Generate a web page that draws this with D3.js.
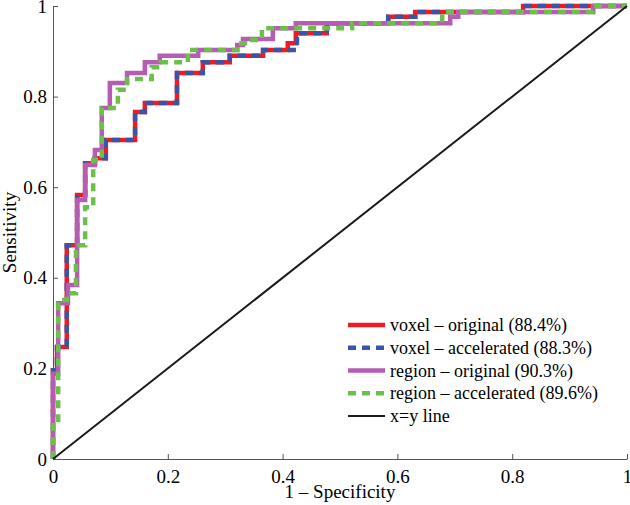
<!DOCTYPE html>
<html>
<head>
<meta charset="utf-8">
<script src="https://cdn.jsdelivr.net/npm/d3@7"></script>
<style>
  body { margin: 0; background: #fff; }
  text { font-family: "Liberation Serif", "Times New Roman", serif; fill: #000; }
</style>
</head>
<body>
<svg id="chart" width="630" height="505"></svg>
<script>
// ROC corner points (1 - specificity, sensitivity)
const fprVoxelOrig = [0, 0, 0.007, 0.024, 0.042, 0.056, 0.073, 0.092, 0.143, 0.160, 0.216, 0.261, 0.308, 0.366, 0.409, 0.423, 0.477, 0.584, 0.631, 0.819, 1];
const tprVoxelOrig = [0, 0.196, 0.247, 0.472, 0.583, 0.653, 0.664, 0.704, 0.766, 0.786, 0.852, 0.876, 0.890, 0.903, 0.918, 0.940, 0.962, 0.976, 0.987, 1, 1];

const fprVoxelAcc = [0, 0, 0.007, 0.024, 0.042, 0.056, 0.073, 0.092, 0.143, 0.160, 0.216, 0.261, 0.308, 0.366, 0.425, 0.477, 0.584, 0.631, 0.819, 1];
const tprVoxelAcc = [0, 0.196, 0.247, 0.472, 0.583, 0.653, 0.664, 0.704, 0.766, 0.786, 0.852, 0.876, 0.890, 0.903, 0.940, 0.962, 0.976, 0.987, 1, 1];

const fprRegionOrig = [0, 0, 0.009, 0.026, 0.042, 0.056, 0.073, 0.085, 0.099, 0.129, 0.160, 0.186, 0.253, 0.321, 0.331, 0.383, 0.423, 0.692, 0.706, 0.941, 1];
const tprRegionOrig = [0, 0.188, 0.344, 0.384, 0.572, 0.649, 0.682, 0.775, 0.830, 0.852, 0.876, 0.890, 0.903, 0.914, 0.927, 0.951, 0.962, 0.976, 0.987, 1, 1];

const fprRegionAcc = [0, 0, 0.009, 0.024, 0.040, 0.056, 0.070, 0.085, 0.113, 0.129, 0.172, 0.188, 0.235, 0.321, 0.343, 0.364, 0.521, 0.678, 0.941, 1];
const tprRegionAcc = [0, 0.086, 0.351, 0.366, 0.472, 0.556, 0.660, 0.775, 0.815, 0.839, 0.865, 0.876, 0.903, 0.918, 0.925, 0.951, 0.962, 0.987, 1, 1];

const diagFpr = [0, 1];
const diagTpr = [0, 1];

const legendLabels = [
  "voxel \u2013 original (88.4%)",
  "voxel \u2013 accelerated (88.3%)",
  "region \u2013 original (90.3%)",
  "region \u2013 accelerated (89.6%)",
  "x=y line"
];
const tickValues = [0, 0.2, 0.4, 0.6, 0.8, 1];
const tickLabels = ["0", "0.2", "0.4", "0.6", "0.8", "1"];

// styles
const seriesColors = ["#ec1c24", "#3a55a6", "#b65cb3", "#6dbf4b", "#1a1a1a"];
const seriesDash = [null, "8,6", null, "8,6", null];
const seriesWidth = [4.5, 4.5, 4.5, 4.5, 2];

var svg = d3.select("#chart"),
  width = +svg.attr("width"),
  height = +svg.attr("height");

var margin = {top: 6, right: 3, bottom: 46, left: 53};

var x = d3.scaleLinear().domain([0, 1]).range([margin.left, width - margin.right]);
var y = d3.scaleLinear().domain([0, 1]).range([height - margin.bottom, margin.top]);

// axes (left and bottom only, ticks pointing inward)
var xAxis = d3.axisBottom(x)
  .tickValues(tickValues)
  .tickFormat(function(d, i) { return tickLabels[i]; })
  .tickSizeInner(-5).tickSizeOuter(0).tickPadding(11);
var yAxis = d3.axisLeft(y)
  .tickValues(tickValues)
  .tickFormat(function(d, i) { return tickLabels[i]; })
  .tickSizeInner(-5).tickSizeOuter(0).tickPadding(6);

var gx = svg.append("g")
  .attr("transform", "translate(0," + y(0) + ")")
  .call(xAxis);
var gy = svg.append("g")
  .attr("transform", "translate(" + x(0) + ",0)")
  .call(yAxis);

[gx, gy].forEach(function(g) {
  g.select(".domain").attr("stroke", "#555").attr("stroke-width", 1);
  g.selectAll(".tick line").attr("stroke", "#555");
  g.selectAll(".tick text")
    .style("font-family", "'Liberation Serif', 'Times New Roman', serif")
    .style("font-size", "19px")
    .attr("fill", "#000");
});

// series
var series = [
  {fpr: fprVoxelOrig, tpr: tprVoxelOrig},
  {fpr: fprVoxelAcc, tpr: tprVoxelAcc},
  {fpr: fprRegionOrig, tpr: tprRegionOrig},
  {fpr: fprRegionAcc, tpr: tprRegionAcc},
  {fpr: diagFpr, tpr: diagTpr}
];

var stepLine = d3.line()
  .x(function(d) { return x(d[0]); })
  .y(function(d) { return y(d[1]); })
  .curve(d3.curveStepAfter);
var straightLine = d3.line()
  .x(function(d) { return x(d[0]); })
  .y(function(d) { return y(d[1]); });

series.forEach(function(s, i) {
  var pts = s.fpr.map(function(f, j) { return [f, s.tpr[j]]; });
  svg.append("path")
    .datum(pts)
    .attr("fill", "none")
    .attr("stroke", seriesColors[i])
    .attr("stroke-width", seriesWidth[i])
    .attr("stroke-dasharray", seriesDash[i])
    .attr("d", i === 4 ? straightLine : stepLine);
});

// axis titles
svg.append("text")
  .attr("x", (x(0) + x(1)) / 2)
  .attr("y", 498)
  .attr("text-anchor", "middle")
  .style("font-size", "19px")
  .text("1 \u2013 Specificity");

svg.append("text")
  .attr("transform", "translate(16," + (y(0) + y(1)) / 2 + ") rotate(-90)")
  .attr("text-anchor", "middle")
  .style("font-size", "19px")
  .text("Sensitivity");

// legend
var legend = svg.append("g").attr("transform", "translate(348,325)");
legendLabels.forEach(function(label, i) {
  var row = legend.append("g").attr("transform", "translate(0," + (i * 22.75) + ")");
  row.append("line")
    .attr("x1", 0).attr("x2", 37)
    .attr("y1", 0).attr("y2", 0)
    .attr("stroke", seriesColors[i])
    .attr("stroke-width", i === 4 ? 2 : 4.5)
    .attr("stroke-dasharray", seriesDash[i]);
  row.append("text")
    .attr("x", 42)
    .attr("y", 6)
    .style("font-size", "18px")
    .text(label);
});
</script>
</body>
</html>
